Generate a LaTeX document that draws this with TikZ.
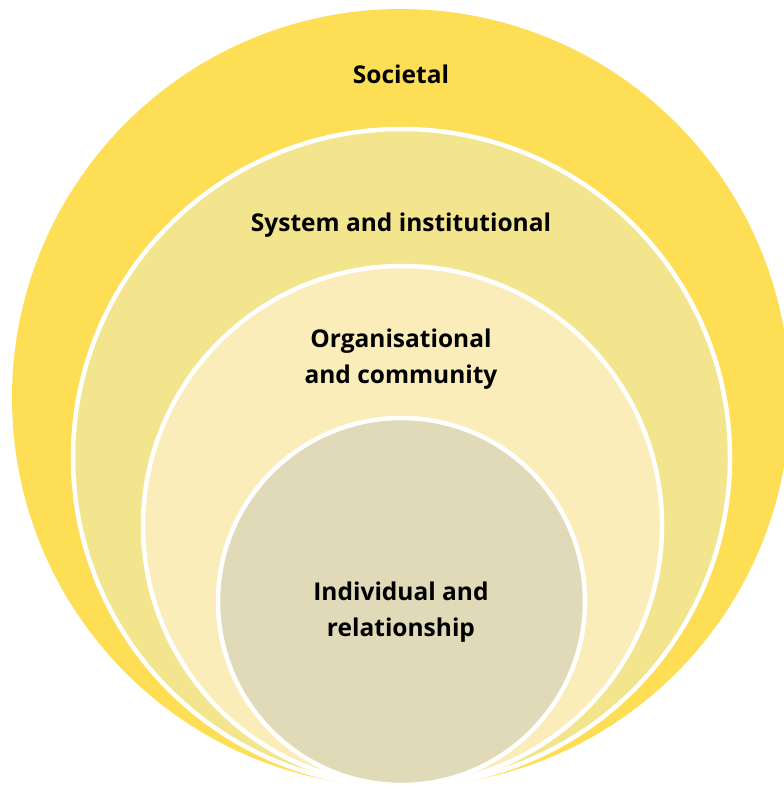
\documentclass[tikz,border=0pt]{standalone}
\usepackage{fontspec}
\setmainfont{Open Sans}
\begin{document}
\begin{tikzpicture}[x=1pt,y=-1pt,
  ring/.style={draw=white,line width=4.5pt},
  label/.style={font=\bfseries\fontsize{24.5}{36}\selectfont,text=black,align=center,inner sep=0pt,anchor=base}]
\definecolor{societal}{HTML}{FEDE55}
\definecolor{system}{HTML}{F3E58D}
\definecolor{organis}{HTML}{FAEDB9}
\definecolor{individ}{HTML}{E0DAB8}
\useasboundingbox (0,0) rectangle (784,790);
\clip (0,0) rectangle (784,790);
% nested levels, all touching at the bottom
\fill[societal] (401,398) circle[radius=389];
\filldraw[ring,fill=system] (401.5,457.5) circle[radius=328.5];
\filldraw[ring,fill=organis] (402.5,525.5) circle[radius=259.5];
\filldraw[ring,fill=individ] (401.5,601.5) circle[radius=183.5];
% level names (base = baseline of the last line)
\node[label] (soc) at (401,83) {Societal};
\node[label] (sys) at (401,231) {System and institutional};
\node[label] (org) at (401,383) {Organisational\\and community};
\node[label] (ind) at (401,636) {Individual and\\relationship};
\end{tikzpicture}
\end{document}
